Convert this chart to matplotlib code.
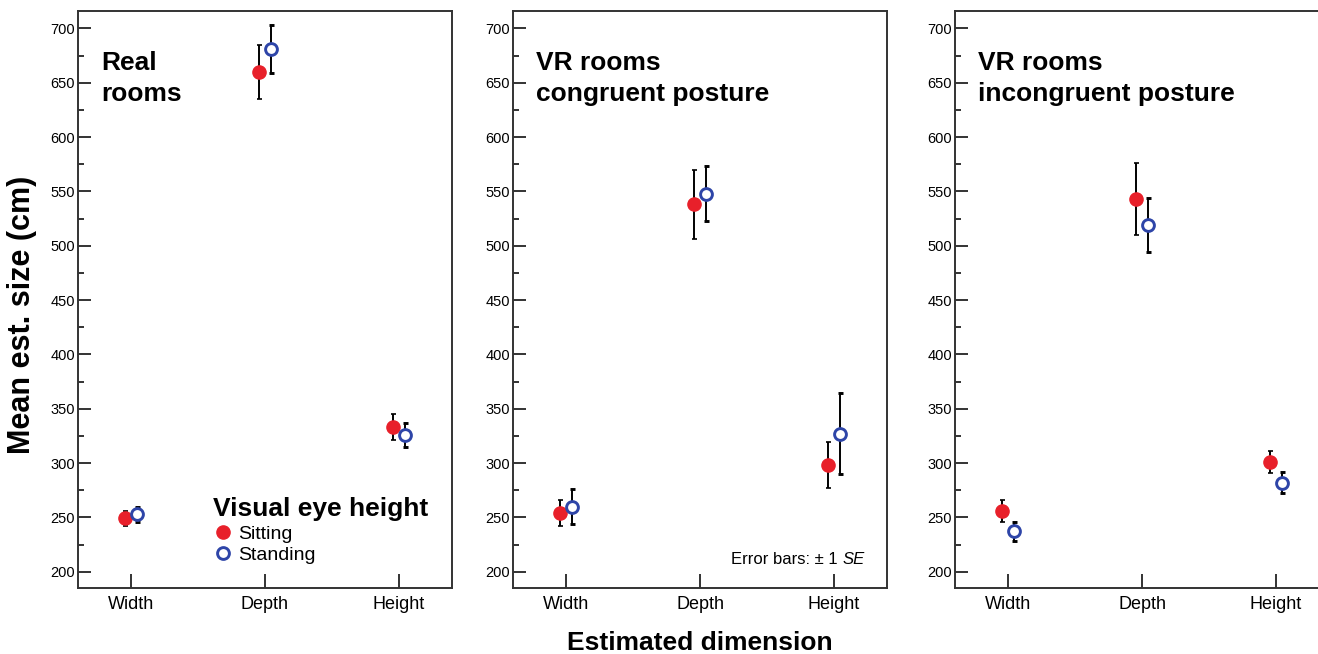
import matplotlib.pyplot as plt
from matplotlib.lines import Line2D
from matplotlib.ticker import MultipleLocator
import numpy as np

plt.rcParams['font.family'] = ['Liberation Sans', 'DejaVu Sans']

dimensions = ['Width', 'Depth', 'Height']
panel_titles = ['Real\nrooms', 'VR rooms\ncongruent posture', 'VR rooms\nincongruent posture']

# means and standard errors (cm), one row per panel, columns = Width, Depth, Height
sitting_mean = [[249, 660, 333],
                [254, 538, 298],
                [256, 543, 301]]
sitting_se = [[7, 25, 12],
              [12, 32, 21],
              [10, 33, 10]]
standing_mean = [[253, 681, 326],
                 [260, 548, 327],
                 [237, 519, 282]]
standing_se = [[7, 22, 11],
               [16, 25, 37],
               [9, 25, 10]]

red = '#e8202a'
blue = '#2e45a8'
frame = '#333333'

W, H = 1318, 654
fig = plt.figure(figsize=(W / 100, H / 100), dpi=100)

lefts = [78, 513, 955]
width_px = 374
bottom_px, top_px = 588, 11

x = np.arange(len(dimensions))
off = 0.045

axes = []
for i, left in enumerate(lefts):
    ax = fig.add_axes([left / W, (H - bottom_px) / H, width_px / W, (bottom_px - top_px) / H])
    axes.append(ax)
    ax.errorbar(x - off, sitting_mean[i], yerr=sitting_se[i], fmt='o', color=red,
                ms=9.5, mec=red, ecolor='black', elinewidth=1.4, capsize=1.8, capthick=1.2, zorder=3)
    ax.errorbar(x + off, standing_mean[i], yerr=standing_se[i], fmt='o', mfc='white',
                mec=blue, mew=2.1, ms=8.5, ecolor='black', elinewidth=1.4, capsize=1.8,
                capthick=1.2, zorder=3)
    ax.set_xlim(-0.4, 2.4)
    ax.set_ylim(185, 716)
    ax.set_xticks(x)
    ax.set_xticklabels(dimensions, fontsize=13)
    ax.yaxis.set_minor_locator(MultipleLocator(25))
    ax.set_yticks(np.arange(200, 701, 50))
    ax.tick_params(axis='y', which='major', direction='in', length=9, width=1.4,
                   labelsize=10.5, pad=2, color=frame)
    ax.tick_params(axis='y', which='minor', direction='in', length=4, width=1.4, color=frame)
    ax.tick_params(axis='x', direction='in', length=10, width=1.4, labelsize=13, pad=6,
                   color=frame)
    for s in ax.spines.values():
        s.set_color(frame)
        s.set_linewidth(1.4)
    ax.text(0.062, 0.93, panel_titles[i], transform=ax.transAxes, fontsize=19,
            fontweight='bold', va='top', ha='left', linespacing=1.33)

handles = [Line2D([], [], ls='none', marker='o', color=red, ms=9.5),
           Line2D([], [], ls='none', marker='o', mfc='white', mec=blue, mew=2.1, ms=8.5)]
leg = axes[0].legend(handles, ['Sitting', 'Standing'], loc='lower left',
                     bbox_to_anchor=(0.33, 0.022), frameon=False, fontsize=14,
                     title='Visual eye height', alignment='left',
                     title_fontproperties={'weight': 'bold', 'size': 19},
                     handletextpad=0.3, labelspacing=0.18, handlelength=1.0,
                     borderaxespad=0.2)
leg._legend_box.sep = 3

axes[1].text(0.88, 0.036, 'Error bars: \u00b1 1 ', transform=axes[1].transAxes,
             fontsize=12, ha='right', va='bottom')
axes[1].text(0.88, 0.036, 'SE', transform=axes[1].transAxes, fontsize=12,
             ha='left', va='bottom', style='italic')

fig.text(22 / W, (H - 315) / H, 'Mean est. size (cm)', rotation=90, fontsize=22,
         fontweight='bold', ha='center', va='center')
fig.text(700 / W, (H - 643) / H, 'Estimated dimension', fontsize=19,
         fontweight='bold', ha='center', va='center')

fig.savefig('out.png', dpi=100)
